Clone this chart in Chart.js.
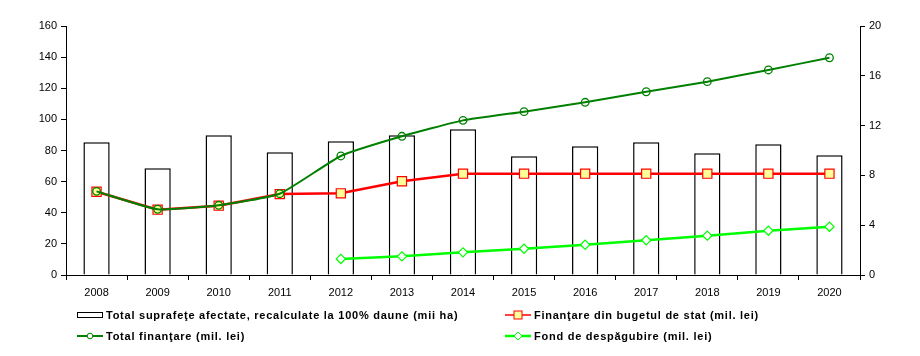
<!DOCTYPE html>
<html>
<head>
<meta charset="utf-8">
<script src="https://cdn.jsdelivr.net/npm/chart.js@4/dist/chart.umd.min.js"></script>
<style>
  html, body { margin: 0; padding: 0; background: #fff; }
  #wrap { position: relative; width: 920px; height: 356px; }
  #legend { position: absolute; left: 0; top: 0; width: 920px; height: 356px; pointer-events: none;
    font-family: "Liberation Sans", Arial, sans-serif; font-weight: bold; font-size: 11px; color: #000;
    letter-spacing: 0.75px; }
  .li { position: absolute; display: flex; align-items: center; height: 14px; white-space: nowrap; }
  .li svg { margin-right: 3px; }
</style>
</head>
<body>
<div id="wrap">
  <canvas id="c" width="920" height="356"></canvas>
  <div id="legend"></div>
</div>
<script>
const years = ['2008','2009','2010','2011','2012','2013','2014','2015','2016','2017','2018','2019','2020'];
const suprafete = [85.3, 68.6, 89.8, 78.9, 86, 89.8, 93.6, 76.3, 82.7, 85.3, 78.2, 84, 76.9];
const bugetStat = [6.69, 5.25, 5.57, 6.5, 6.56, 7.53, 8.14, 8.14, 8.14, 8.14, 8.14, 8.14, 8.14];
const totalFinantare = [6.72, 5.28, 5.6, 6.53, 9.56, 11.14, 12.42, 13.12, 13.87, 14.72, 15.53, 16.47, 17.45];
const fondDespagubire = [null, null, null, null, 1.29, 1.5, 1.82, 2.11, 2.43, 2.79, 3.16, 3.56, 3.88];
const leftTicks = [0, 20, 40, 60, 80, 100, 120, 140, 160];
const rightTicks = [0, 4, 8, 12, 16, 20];

const labels = {
  bar: 'Total suprafeţe afectate, recalculate la 100% daune (mii ha)',
  red: 'Finanţare din bugetul de stat (mil. lei)',
  dark: 'Total finanţare (mil. lei)',
  light: 'Fond de despăgubire (mil. lei)'
};

const tickFont = { family: '"Liberation Sans", Arial, sans-serif', size: 11 };

new Chart(document.getElementById('c'), {
  data: {
    labels: years,
    datasets: [
      { type: 'bar', label: labels.bar, data: suprafete, yAxisID: 'yL',
        backgroundColor: '#ffffff', borderColor: '#000000', borderWidth: 1.5,
        categoryPercentage: 1, barPercentage: 0.43, order: 4 },
      { type: 'line', label: labels.red, data: bugetStat, yAxisID: 'yR',
        borderColor: '#ff0000', borderWidth: 2.5, tension: 0,
        pointStyle: 'rect', pointRadius: 6.5, pointBackgroundColor: '#ffff99',
        pointBorderColor: '#ff0000', pointBorderWidth: 1.2, order: 3 },
      { type: 'line', label: labels.light, data: fondDespagubire, yAxisID: 'yR',
        borderColor: '#00ff00', borderWidth: 2.5, tension: 0,
        pointStyle: 'rectRot', pointRadius: 4.6, pointBackgroundColor: '#ffffff',
        pointBorderColor: '#00ff00', pointBorderWidth: 1.2, order: 2 },
      { type: 'line', label: labels.dark, data: totalFinantare, yAxisID: 'yR',
        borderColor: '#008000', borderWidth: 2, tension: 0.15,
        pointStyle: 'circle', pointRadius: 3.8, pointBackgroundColor: 'rgba(0,0,0,0)',
        pointBorderColor: '#008000', pointBorderWidth: 1.3, order: 1 }
    ]
  },
  options: {
    responsive: false,
    animation: false,
    layout: { padding: { top: 26, bottom: 56, left: 0, right: 0 } },
    plugins: { legend: { display: false }, tooltip: { enabled: false } },
    scales: {
      x: {
        offset: true,
        grid: { offset: true, drawOnChartArea: false, drawTicks: true, tickLength: 5, color: '#000' },
        border: { color: '#000', width: 1 },
        ticks: { font: tickFont, color: '#000', padding: 6, maxRotation: 0 },
        afterFit: (s) => { s.height = 25; }
      },
      yL: {
        position: 'left', min: 0, max: 160,
        afterBuildTicks: (s) => { s.ticks = leftTicks.map(v => ({ value: v })); },
        grid: { drawOnChartArea: false, tickLength: 5, color: '#000' },
        border: { color: '#000', width: 1 },
        ticks: { font: tickFont, color: '#000', padding: 4 },
        afterFit: (s) => { s.width = 66; }
      },
      yR: {
        position: 'right', min: 0, max: 20,
        afterBuildTicks: (s) => { s.ticks = rightTicks.map(v => ({ value: v })); },
        grid: { drawOnChartArea: false, tickLength: 5, color: '#000' },
        border: { color: '#000', width: 1 },
        ticks: { font: tickFont, color: '#000', padding: 4 },
        afterFit: (s) => { s.width = 60; }
      }
    }
  }
});

// HTML legend in two columns
const sym = {
  bar: '<svg width="26" height="8"><rect x="0.5" y="1.5" width="25" height="5" fill="#fff" stroke="#000" stroke-width="1"/></svg>',
  red: '<svg width="26" height="10"><line x1="0" y1="5" x2="26" y2="5" stroke="#ff0000" stroke-width="1.5"/><rect x="9" y="1" width="8" height="8" fill="#ffff99" stroke="#ff0000" stroke-width="1"/></svg>',
  dark: '<svg width="26" height="10"><line x1="0" y1="5" x2="26" y2="5" stroke="#008000" stroke-width="2"/><circle cx="13" cy="5" r="2.8" fill="#fff" stroke="#008000" stroke-width="1"/></svg>',
  light: '<svg width="26" height="10"><line x1="0" y1="5" x2="26" y2="5" stroke="#00ff00" stroke-width="2.5"/><path d="M13 1 L17 5 L13 9 L9 5 Z" fill="#fff" stroke="#00ff00" stroke-width="1"/></svg>'
};
const items = [
  { k: 'bar', x: 77, y: 308 },
  { k: 'red', x: 505, y: 308 },
  { k: 'dark', x: 77, y: 329 },
  { k: 'light', x: 505, y: 329 }
];
const lg = document.getElementById('legend');
items.forEach(it => {
  const d = document.createElement('div');
  d.className = 'li';
  d.style.left = it.x + 'px';
  d.style.top = it.y + 'px';
  d.innerHTML = sym[it.k] + '<span>' + labels[it.k] + '</span>';
  lg.appendChild(d);
});
</script>
</body>
</html>
